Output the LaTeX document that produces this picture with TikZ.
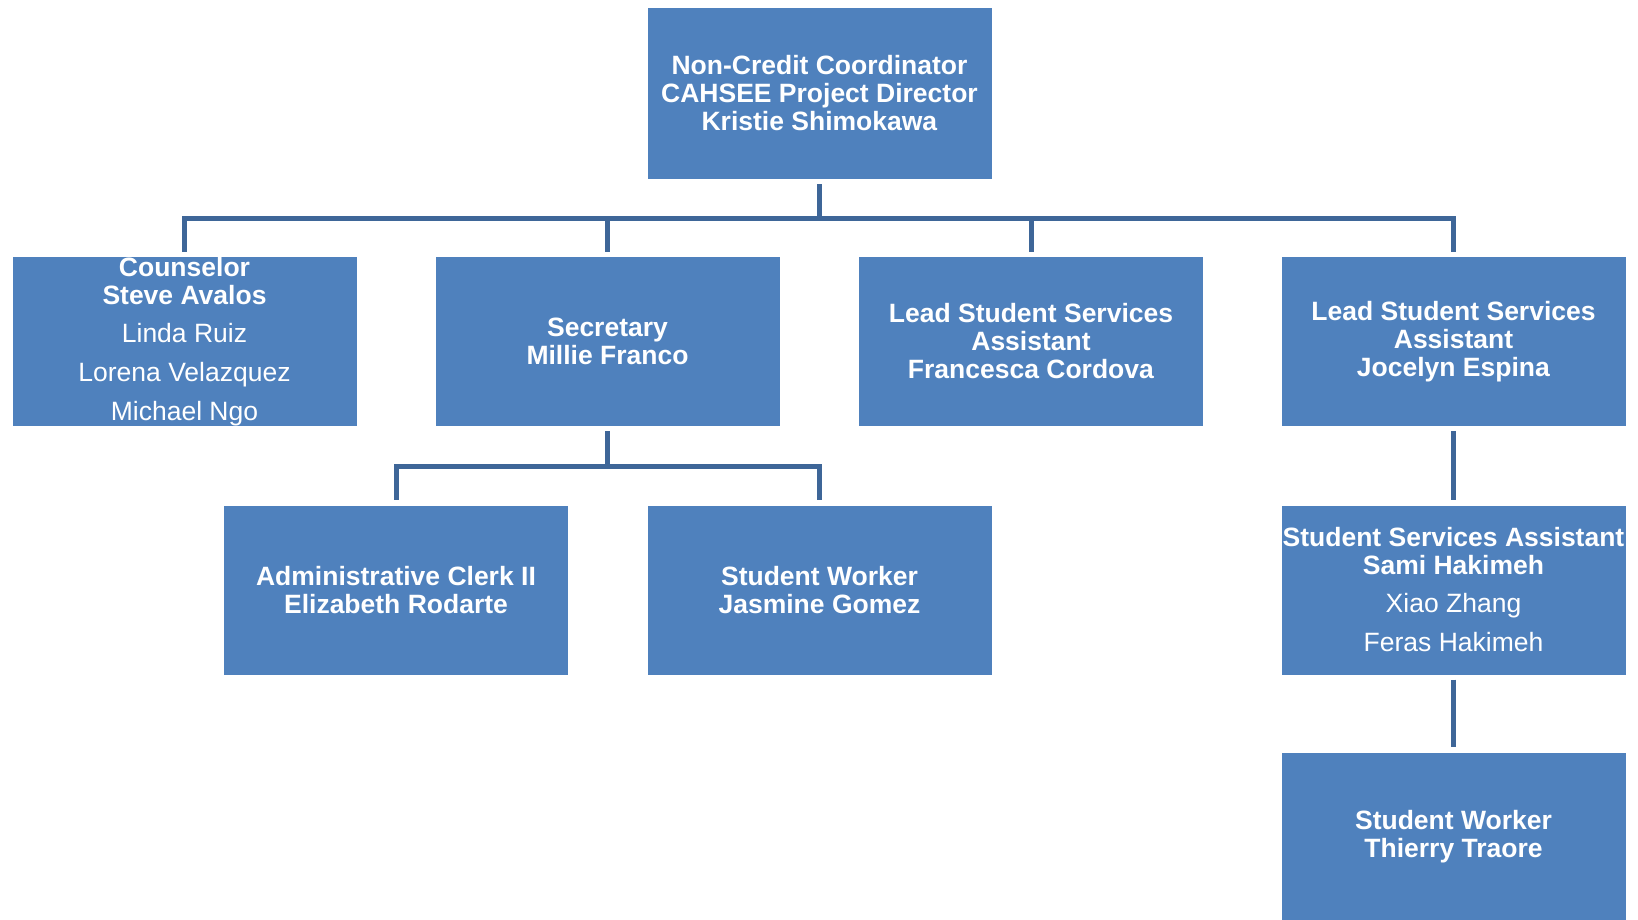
\documentclass[tikz,border=0pt]{standalone}
\usepackage{fontspec}
\setmainfont{Liberation Sans}
\definecolor{boxblue}{RGB}{79,129,189}
\definecolor{linkblue}{RGB}{62,102,152}
\begin{document}
\begin{tikzpicture}[x=1pt,y=-1pt,
  orgbox/.style={fill=boxblue, draw=none, minimum width=344pt, minimum height=169pt,
    inner sep=0pt, align=center, text=white, font=\fontsize{26.5}{28}\selectfont},
  conn/.style={draw=linkblue, line width=5pt}]
\useasboundingbox[fill=white] (0,0) rectangle (1638,920);

\node[orgbox, minimum height=171pt] (top) at (819.5,93.5) {\textbf{Non-Credit Coordinator}\\\textbf{CAHSEE Project Director}\\\textbf{Kristie Shimokawa}};

\node[orgbox] (couns) at (184.5,341.5) {\textbf{Counselor}\\\textbf{Steve Avalos}\\[10pt]Linda Ruiz\\[11pt]Lorena Velazquez\\[11pt]Michael Ngo};
\node[orgbox] (sec) at (607.5,341.5) {\textbf{Secretary}\\\textbf{Millie Franco}};
\node[orgbox] (lead1) at (1031,341.5) {\textbf{Lead Student Services}\\\textbf{Assistant}\\\textbf{Francesca Cordova}};
\node[orgbox] (lead2) at (1453.5,341.5) {\textbf{Lead Student Services}\\\textbf{Assistant}\\\textbf{Jocelyn Espina}};

\node[orgbox] (admin) at (396,590) {\textbf{Administrative Clerk II}\\\textbf{Elizabeth Rodarte}};
\node[orgbox] (worker1) at (819.5,590) {\textbf{Student Worker}\\\textbf{Jasmine Gomez}};
\node[orgbox] (ssa) at (1453.5,590) {\textbf{Student Services Assistant}\\\textbf{Sami Hakimeh}\\[10pt]Xiao Zhang\\[11pt]Feras Hakimeh};
\node[orgbox] (worker2) at (1453.5,837) {\textbf{Student Worker}\\\textbf{Thierry Traore}};

\coordinate (bus1) at (819.5,219);
\coordinate (bus2) at (607.5,466);

\draw[conn, shorten <=5pt] (top.south) -- (bus1);
\foreach \c in {couns,sec,lead1,lead2}
  \draw[conn, shorten >=5pt] (bus1) -| (\c.north);

\draw[conn, shorten <=5pt] (sec.south) -- (bus2);
\foreach \c in {admin,worker1}
  \draw[conn, shorten >=5pt] (bus2) -| (\c.north);

\draw[conn, shorten <=5pt, shorten >=5pt] (lead2.south) -- (ssa.north);
\draw[conn, shorten <=5pt, shorten >=5pt] (ssa.south) -- (worker2.north);
\end{tikzpicture}
\end{document}
